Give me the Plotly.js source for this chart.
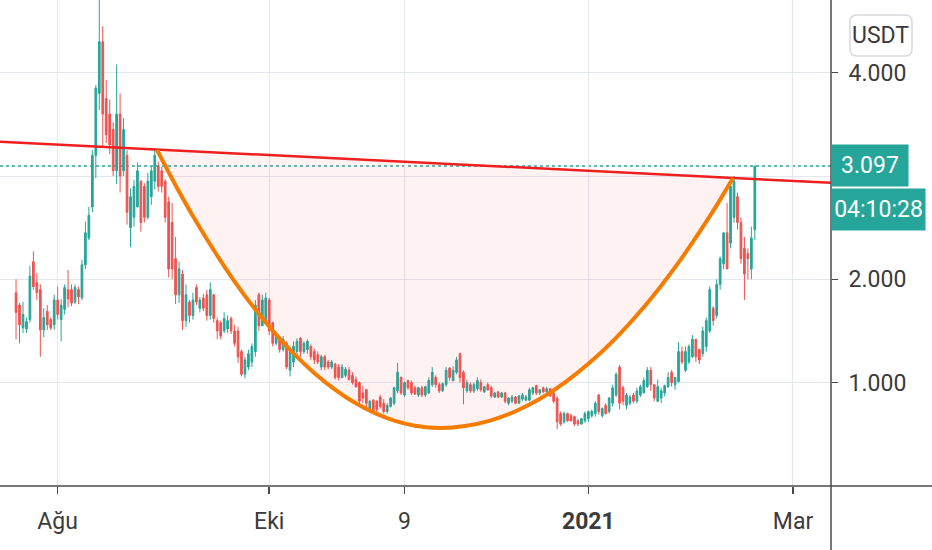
<!DOCTYPE html>
<html>
<head>
<meta charset="utf-8">
<script src="https://cdn.plot.ly/plotly-3.0.1.min.js"></script>
<style>
  html, body { margin: 0; padding: 0; background: #ffffff; }
  #chart { width: 932px; height: 550px; }
</style>
</head>
<body>
<div id="chart"></div>
<script>
// ---- Daily candles, first candle 2020-07-20 ----
const firstDay = "2020-07-20";
const openV = [1.87,1.75,1.53,1.52,1.61,2.17,1.97,1.90,1.51,1.69,1.61,1.56,1.80,1.61,1.71,1.90,1.90,1.78,1.90,1.82,
2.14,2.40,2.70,3.20,3.80,4.30,3.75,3.60,3.45,3.05,3.60,3.05,3.20,2.50,2.60,2.70,2.95,2.90,2.60,2.80,
2.95,3.10,3.05,2.95,2.75,2.55,2.20,1.85,2.05,1.60,1.78,1.65,1.92,1.72,1.82,1.85,1.65,1.85,1.60,1.58,
1.50,1.52,1.62,1.50,1.50,1.30,1.08,1.15,1.20,1.30,1.85,1.55,1.60,1.80,1.58,1.38,1.43,1.32,1.38,1.12,
1.20,1.30,1.43,1.30,1.32,1.35,1.30,1.27,1.15,1.25,1.20,1.15,1.18,1.15,1.05,1.07,1.12,1.07,1.03,1.00,
0.90,0.93,0.75,0.83,0.82,0.86,0.80,0.72,0.77,0.80,0.92,1.05,0.88,1.02,1.00,0.95,0.88,0.95,0.88,0.90,
0.98,1.05,0.98,0.92,0.98,1.14,1.02,1.10,1.28,1.10,0.92,0.98,0.92,0.94,1.00,0.91,0.98,0.95,0.86,0.91,
0.86,0.90,0.80,0.82,0.86,0.80,0.84,0.83,0.83,0.90,0.97,0.90,0.95,0.91,0.94,0.90,0.85,0.70,0.62,0.70,
0.68,0.67,0.63,0.60,0.63,0.65,0.68,0.70,0.88,0.68,0.78,0.72,0.80,0.88,1.15,0.95,0.78,0.80,0.88,0.82,
0.88,0.90,0.96,1.12,0.98,0.82,0.85,0.90,0.96,1.10,0.98,1.01,1.30,1.12,1.20,1.25,1.42,1.32,1.28,1.35,
1.50,1.72,1.65,1.95,2.15,2.45,2.35,2.60,2.80,2.55,2.30,2.25,2.10,2.48];
const highV = [2.00,1.77,1.78,1.63,2.13,2.27,2.06,1.95,1.72,1.75,1.63,1.85,1.93,1.81,1.95,2.09,1.95,1.95,1.93,2.19,
2.56,2.70,3.25,3.88,4.85,4.45,3.93,3.74,3.52,4.08,3.80,3.56,3.25,2.88,2.96,3.13,2.96,2.93,3.03,3.09,
3.27,3.14,3.09,2.97,2.80,2.74,2.41,2.17,2.09,1.95,1.80,1.87,1.95,1.83,1.86,1.90,1.97,1.86,1.63,1.60,
1.68,1.65,1.64,1.56,1.54,1.32,1.25,1.32,1.38,1.80,1.87,1.85,1.87,1.82,1.59,1.48,1.44,1.45,1.40,1.32,
1.40,1.43,1.44,1.40,1.42,1.37,1.33,1.30,1.27,1.27,1.22,1.22,1.19,1.18,1.18,1.15,1.15,1.10,1.06,1.01,
0.97,0.94,0.83,0.84,0.83,0.88,0.84,0.80,0.86,0.96,1.19,1.06,1.01,1.03,1.02,0.97,0.96,0.97,0.97,1.05,
1.15,1.07,1.00,1.00,1.15,1.15,1.16,1.25,1.29,1.12,1.03,1.00,1.00,1.05,1.03,0.97,1.00,0.97,0.91,0.92,
0.91,0.91,0.86,0.88,0.87,0.88,0.90,0.88,0.95,0.96,0.98,0.94,0.96,0.96,0.95,0.91,0.87,0.72,0.72,0.71,
0.70,0.68,0.65,0.66,0.72,0.73,0.74,0.82,0.89,0.76,0.80,0.86,0.98,1.10,1.17,0.97,0.90,0.88,0.90,0.95,
0.98,1.05,1.15,1.15,0.98,1.03,0.95,0.98,1.10,1.12,1.05,1.39,1.35,1.35,1.37,1.46,1.42,1.33,1.54,1.63,
1.93,1.74,2.00,2.22,2.45,2.74,2.96,3.00,2.84,2.60,2.41,2.30,2.51,3.097];
const lowV = [1.42,1.38,1.48,1.48,1.58,1.90,1.80,1.25,1.44,1.51,1.51,1.51,1.61,1.40,1.66,1.73,1.74,1.76,1.76,1.80,
2.10,2.38,2.65,2.98,3.64,3.28,3.32,3.21,3.00,2.92,2.84,3.00,2.53,2.31,2.51,2.70,2.46,2.55,2.58,2.72,
2.87,2.85,2.84,2.55,2.02,2.00,1.76,1.77,1.51,1.54,1.58,1.61,1.75,1.68,1.69,1.60,1.61,1.58,1.42,1.42,
1.48,1.48,1.47,1.35,1.19,1.06,1.04,1.12,1.15,1.25,1.50,1.55,1.58,1.46,1.35,1.36,1.29,1.30,1.13,1.06,
1.15,1.25,1.25,1.28,1.28,1.22,1.18,1.18,1.12,1.12,1.13,1.13,1.03,1.02,1.04,1.05,1.02,0.98,0.95,0.77,
0.80,0.74,0.74,0.71,0.71,0.75,0.70,0.70,0.76,0.78,0.90,0.88,0.86,0.93,0.88,0.88,0.86,0.86,0.86,0.89,
0.96,0.95,0.90,0.91,0.96,1.02,1.01,1.08,1.00,0.79,0.90,0.90,0.90,0.92,0.91,0.90,0.92,0.85,0.85,0.85,
0.85,0.80,0.78,0.80,0.79,0.80,0.82,0.82,0.82,0.88,0.88,0.88,0.90,0.90,0.86,0.80,0.55,0.58,0.60,0.62,
0.62,0.58,0.58,0.59,0.61,0.62,0.66,0.67,0.69,0.66,0.69,0.70,0.77,0.86,0.74,0.78,0.74,0.78,0.80,0.80,
0.86,0.90,0.95,0.92,0.82,0.81,0.80,0.87,0.95,0.96,0.93,1.00,1.18,1.10,1.18,1.24,1.20,1.18,1.25,1.30,
1.48,1.55,1.62,1.90,2.10,2.10,2.30,2.55,2.48,2.15,1.80,2.00,2.00,2.38];
const closeV = [1.68,1.56,1.66,1.59,2.03,1.93,1.87,1.51,1.63,1.56,1.53,1.80,1.66,1.75,1.92,1.81,1.77,1.92,1.83,2.14,
2.45,2.62,3.20,3.85,4.30,3.60,3.40,3.30,3.05,3.60,3.00,3.45,2.65,2.80,2.90,3.05,2.55,2.60,2.95,3.05,
3.20,2.90,2.90,2.60,2.10,2.10,1.85,2.10,1.60,1.85,1.65,1.80,1.78,1.80,1.72,1.65,1.90,1.62,1.50,1.45,
1.62,1.60,1.50,1.38,1.25,1.08,1.22,1.28,1.35,1.75,1.55,1.80,1.82,1.50,1.38,1.45,1.32,1.42,1.15,1.30,
1.35,1.40,1.30,1.38,1.40,1.25,1.22,1.20,1.25,1.15,1.15,1.20,1.05,1.05,1.15,1.13,1.03,1.00,0.96,0.82,
0.85,0.80,0.82,0.72,0.74,0.77,0.72,0.78,0.85,0.95,1.10,0.90,1.00,0.95,0.90,0.89,0.95,0.88,0.96,1.02,
1.10,0.98,0.92,0.99,1.12,1.05,1.12,1.22,1.05,0.95,1.00,0.92,0.98,1.02,0.93,0.96,0.93,0.87,0.90,0.86,
0.90,0.82,0.85,0.86,0.80,0.87,0.88,0.86,0.93,0.95,0.90,0.93,0.91,0.94,0.87,0.82,0.62,0.60,0.70,0.63,
0.63,0.60,0.60,0.65,0.70,0.72,0.72,0.80,0.72,0.75,0.70,0.85,0.95,1.08,0.80,0.82,0.88,0.86,0.82,0.92,
0.96,1.02,1.12,0.98,0.85,0.96,0.92,0.97,1.05,1.00,1.05,1.30,1.20,1.30,1.35,1.42,1.25,1.22,1.50,1.60,
1.90,1.60,1.95,2.20,2.45,2.10,2.90,2.95,2.55,2.20,2.05,2.20,2.40,3.097];

// ---- Drawn pattern: cup curve and resistance line ----
const cupDates = ["2020-08-29 15:00","2020-09-03 20:00","2020-09-09 14:00","2020-09-15 09:00","2020-09-21 03:00",
"2020-09-26 21:00","2020-10-02 16:00","2020-10-08 10:00","2020-10-14 05:00","2020-10-19 23:00",
"2020-10-25 17:00","2020-10-31 12:00","2020-11-06 06:00","2020-11-12 01:00","2020-11-19 06:00",
"2020-11-26 11:00","2020-12-03 16:00","2020-12-10 21:00","2020-12-18 02:00","2020-12-25 07:00",
"2021-01-01 12:00","2021-01-08 17:00","2021-01-15 22:00","2021-01-21 16:00","2021-01-27 11:00",
"2021-02-02 05:00","2021-02-07 03:00","2021-02-11 17:00"];
const cupValues = [3.253,2.921,2.578,2.262,1.973,1.712,1.476,1.268,1.086,0.932,
0.804,0.704,0.629,0.583,0.561,0.579,0.632,0.720,0.843,1.002,
1.196,1.424,1.688,1.924,2.184,2.466,2.723,2.980];
const resistDates = ["2020-07-15 09:00","2021-03-11 23:00"];
const resistValues = [3.332,2.934];

const lastPrice = 3.097;
const lastPriceText = "3.097";
const countdownText = "04:10:28";
const currencyText = "USDT";
const yTickVals = [1,2,3,4];
const yTickText = ["1.000","2.000","","4.000"];   // 3.000 is hidden behind the price label
const xTickVals = ["2020-08-01","2020-10-01","2020-11-09","2021-01-01","2021-03-01"];
const xTickText = ["Ağu","Eki","9","<b>2021</b>","Mar"];

// dates of daily candles
const dates = [];
const d0 = new Date(firstDay + "T00:00:00Z");
for (let i = 0; i < closeV.length; i++) {
  const d = new Date(d0.getTime() + i * 86400000);
  dates.push(d.toISOString().slice(0, 10));
}

const UP = "#26a69a", DOWN = "#ef5350";
const FONT = 'Roboto, "Noto Sans", sans-serif';

// plot-area geometry in figure pixels (for paper-referenced decorations)
const PW = 831, PH = 486;
function px(x) { return x / PW; }
function py(y) { return (PH - y) / PH; }
function roundRect(x0, y0, x1, y1, r) {
  const rx = r / PW, ry = r / PH;
  const X0 = px(x0), X1 = px(x1), Y0 = py(y0), Y1 = py(y1);
  return `M ${X0+rx},${Y0} L ${X1-rx},${Y0} Q ${X1},${Y0} ${X1},${Y0-ry} L ${X1},${Y1+ry} Q ${X1},${Y1} ${X1-rx},${Y1} ` +
         `L ${X0+rx},${Y1} Q ${X0},${Y1} ${X0},${Y1+ry} L ${X0},${Y0-ry} Q ${X0},${Y0} ${X0+rx},${Y0} Z`;
}

const traces = [
  { type: "scatter", mode: "lines", x: cupDates, y: cupValues, fill: "toself",
    fillcolor: "rgba(239,83,80,0.075)", line: { width: 0, shape: "spline", smoothing: 1 },
    hoverinfo: "skip", showlegend: false },
  { type: "candlestick", x: dates, open: openV, high: highV, low: lowV, close: closeV,
    increasing: { line: { color: UP, width: 1 }, fillcolor: UP },
    decreasing: { line: { color: DOWN, width: 1 }, fillcolor: DOWN },
    whiskerwidth: 0, hoverinfo: "skip", showlegend: false },
  { type: "scatter", mode: "lines", x: resistDates, y: resistValues,
    line: { color: "#f01e1e", width: 2.5 }, hoverinfo: "skip", showlegend: false },
  { type: "scatter", mode: "lines", x: cupDates, y: cupValues,
    line: { color: "#f57c00", width: 4, shape: "spline", smoothing: 1 }, hoverinfo: "skip", showlegend: false }
];

const layout = {
  width: 932, height: 550,
  margin: { l: 0, r: 101, t: 0, b: 64 },
  paper_bgcolor: "#ffffff", plot_bgcolor: "#ffffff",
  showlegend: false,
  font: { family: FONT, size: 23, color: "#3b3b3b" },
  xaxis: {
    type: "date", range: resistDates, rangeslider: { visible: false },
    tickvals: xTickVals, ticktext: xTickText,
    showgrid: true, gridcolor: "#e3e8ee", gridwidth: 1,
    ticks: "outside", ticklen: 7, tickwidth: 1.5, tickcolor: "#4a4a4a",
    ticklabelstandoff: 7,
    showline: false, zeroline: false, fixedrange: true,
    tickfont: { family: FONT, size: 23, color: "#3b3b3b" }
  },
  yaxis: {
    side: "right", range: [-0.001, 4.704],
    tickvals: yTickVals, ticktext: yTickText,
    showgrid: true, gridcolor: "#e3e8ee", gridwidth: 1,
    ticks: "outside", ticklen: 6, tickwidth: 1.5, tickcolor: "#4a4a4a",
    ticklabelstandoff: 6,
    showline: false, zeroline: false, fixedrange: true,
    tickfont: { family: FONT, size: 23, color: "#3b3b3b" }
  },
  shapes: [
    { type: "line", xref: "paper", yref: "y", x0: 0, x1: 1, y0: lastPrice, y1: lastPrice,
      line: { color: UP, width: 1.5, dash: "dot" }, layer: "below" },
    { type: "line", xref: "paper", yref: "paper", x0: 1, x1: 1, y0: py(550), y1: 1,
      line: { color: "#4a4a4a", width: 1.5 } },
    { type: "line", xref: "paper", yref: "paper", x0: 0, x1: px(932), y0: 0, y1: 0,
      line: { color: "#4a4a4a", width: 1.5 } },
    { type: "path", xref: "paper", yref: "paper", path: roundRect(850, 15, 912, 56, 7),
      line: { color: "#d6d9de", width: 1.5 }, fillcolor: "#ffffff" }
  ],
  annotations: [
    { xref: "paper", yref: "y", x: 1, y: lastPrice, xanchor: "left", yanchor: "middle",
      text: lastPriceText, showarrow: false, bgcolor: UP, width: 76, height: 41, borderpad: 0,
      font: { family: FONT, size: 23, color: "#ffffff" } },
    { xref: "paper", yref: "paper", x: 1, y: py(209.5), xanchor: "left", yanchor: "middle",
      text: countdownText, showarrow: false, bgcolor: UP, width: 93, height: 41, borderpad: 0,
      font: { family: FONT, size: 23, color: "#ffffff" } },
    { xref: "paper", yref: "paper", x: px(881), y: py(35.5), xanchor: "center", yanchor: "middle",
      text: currencyText, showarrow: false,
      font: { family: FONT, size: 23, color: "#3b3b3b" } }
  ]
};

Plotly.newPlot("chart", traces, layout, { displayModeBar: false, staticPlot: true });
</script>
</body>
</html>
